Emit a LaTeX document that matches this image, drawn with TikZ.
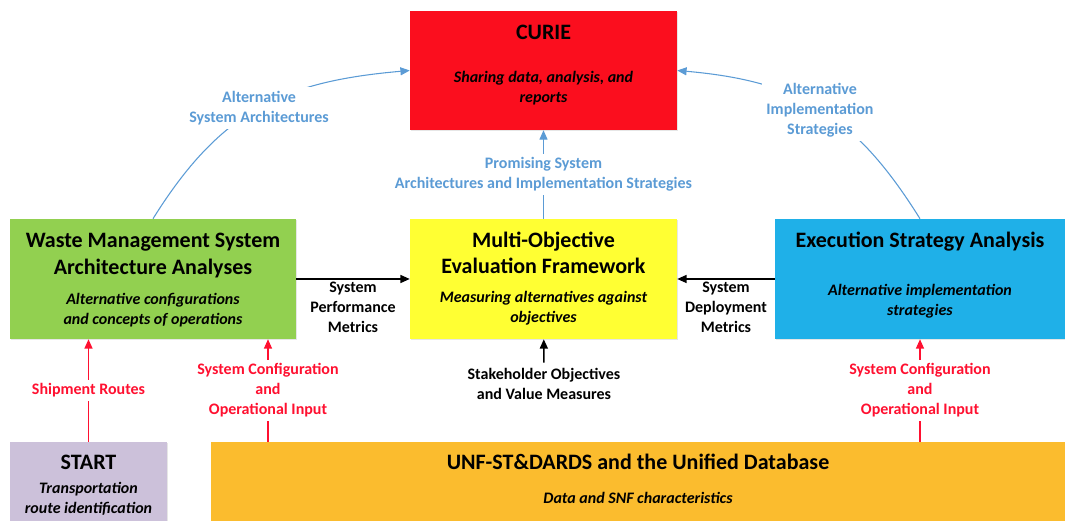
\documentclass[tikz,border=0pt]{standalone}
\usepackage{fontspec}
\setmainfont{Carlito}
\usepackage{tikz}
\usetikzlibrary{arrows.meta,positioning,shadows}
\definecolor{boxred}{HTML}{FB0E1E}
\definecolor{boxgreen}{HTML}{92D050}
\definecolor{boxyellow}{HTML}{FFFF33}
\definecolor{boxblue}{HTML}{1FB0E8}
\definecolor{boxlilac}{HTML}{CCC1DA}
\definecolor{boxorange}{HTML}{FBBC2E}
\definecolor{flowblue}{HTML}{5B9BD5}
\definecolor{flowred}{HTML}{FF1030}

\begin{document}
\begin{tikzpicture}[x=0.75pt,y=0.75pt,>={Triangle[length=7pt,width=6pt]},
  box/.style={inner sep=0pt,drop shadow={shadow xshift=0.8pt,shadow yshift=-1pt,opacity=0.2}},
  head/.style={inner sep=0pt,align=center,font=\fontsize{16.5}{20}\selectfont\bfseries},
  sub/.style={inner sep=0pt,align=center,font=\fontsize{12}{15}\selectfont\bfseries\itshape},
  note/.style={inner sep=0pt,align=center,font=\fontsize{12}{15}\selectfont\bfseries},
  tag/.style={note,fill=white,inner sep=3pt},
  metric/.style={->,line width=1.1pt},
  feedback/.style={->,flowblue,line width=0.8pt},
  feed/.style={->,flowred,line width=1pt}]
\useasboundingbox (0,0) rectangle (1065,521);

\node[box,fill=boxred,minimum width=200.25pt,minimum height=89.25pt] (curie) at (543.5,450.5) {};
\node[box,fill=boxgreen,minimum width=214.5pt,minimum height=90pt] (wms) at (153,242) {};
\node[box,fill=boxyellow,minimum width=200.25pt,minimum height=90pt] (mof) at (543.5,242) {};
\node[box,fill=boxblue,minimum width=217.5pt,minimum height=90pt] (esa) at (920,242) {};
\node[box,fill=boxlilac,minimum width=117.75pt,minimum height=59.25pt] (start) at (88.5,39.5) {};
\node[box,fill=boxorange,minimum width=640.5pt,minimum height=59.25pt] (db) at (638,39.5) {};

\node[head,below=10.5pt of curie.north] (curie-head) {CURIE};
\node[sub,below=45pt of curie.north] (curie-sub) {Sharing data, analysis, and\\reports};
\node[head,below=10.5pt of wms.north] (wms-head) {Waste Management System\\Architecture Analyses};
\node[sub,below=55.5pt of wms.north] (wms-sub) {Alternative configurations\\and concepts of operations};
\node[head,below=9.5pt of mof.north] (mof-head) {Multi-Objective\\Evaluation Framework};
\node[sub,below=54pt of mof.north] (mof-sub) {Measuring alternatives against\\objectives};
\node[head,below=9.5pt of esa.north] (esa-head) {Execution Strategy Analysis};
\node[sub,below=49.25pt of esa.north] (esa-sub) {Alternative implementation\\strategies};
\node[head,below=9.75pt of start.north] (start-head) {START};
\node[sub,below=30pt of start.north] (start-sub) {Transportation\\route identification};
\node[head,below=9pt of db.north] (db-head) {UNF-ST\&DARDS and the Unified Database};
\node[sub,below=37.5pt of db.north] (db-sub) {Data and SNF characteristics};

\draw[metric] (wms.east) -- (mof.west) node[note,midway,below=2pt] (perf) {System\\Performance\\Metrics};
\draw[metric] (esa.west) -- (mof.east) node[note,midway,below=2pt] (deploy) {System\\Deployment\\Metrics};
\node[note,inner sep=4pt] (stake) at (544,137) {Stakeholder Objectives\\and Value Measures};
\draw[metric] (stake) -- (mof);

\draw[feedback] (mof) -- (curie) node[tag,text=flowblue,midway] (promising) {Promising System\\Architectures and Implementation Strategies};
\draw[feedback] (wms.north) to[out=58,in=185,looseness=1.1] node[tag,text=flowblue,pos=0.5] (alt-arch) {Alternative\\System Architectures} (curie.west);
\draw[feedback] (esa.north) to[out=122,in=-5,looseness=1.1] node[tag,text=flowblue,pos=0.5] (alt-impl) {Alternative\\Implementation\\Strategies} (curie.east);

\coordinate (cfg) at (268,0);
\draw[feed] (start) -- (wms.south -| start) node[tag,text=flowred,midway] (routes) {Shipment Routes};
\draw[feed] (db.north -| cfg) -- (wms.south -| cfg) node[tag,text=flowred,midway] (cfg-wms) {System Configuration\\and\\Operational Input};
\draw[feed] (db.north -| esa) -- (esa) node[tag,text=flowred,midway] (cfg-esa) {System Configuration\\and\\Operational Input};
\end{tikzpicture}
\end{document}
